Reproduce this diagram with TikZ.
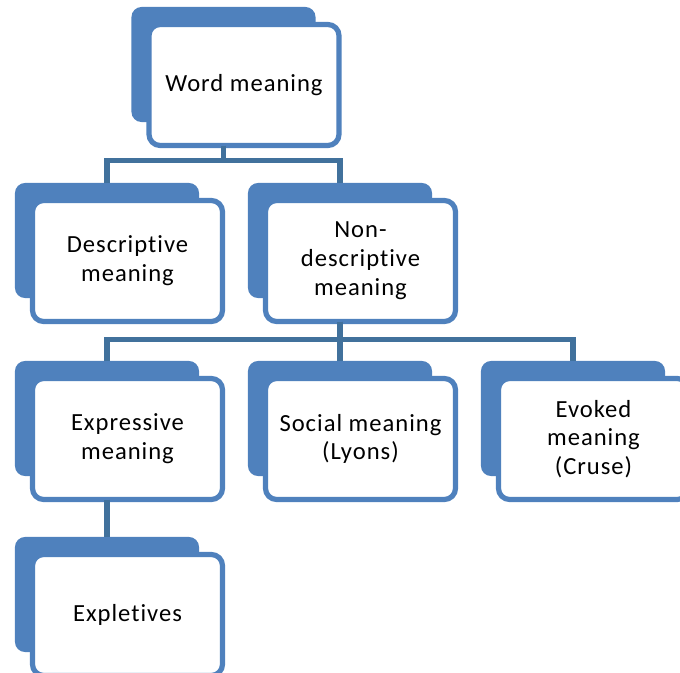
\documentclass[tikz,border=0pt]{standalone}
\usepackage{fontspec}
\setmainfont[LetterSpace=4,Ligatures=NoCommon]{Carlito}
\usepackage{tikz}
\usetikzlibrary{calc}
\definecolor{boxblue}{HTML}{4F81BD}
\definecolor{lineblue}{HTML}{41719C}

\begin{document}
\begin{tikzpicture}[
  x=0.025cm, y=-0.025cm,
  font=\fontsize{17.5}{20.5}\selectfont,
  backbox/.style={fill=boxblue, rounded corners=0.25cm, minimum width=4.6cm, minimum height=2.875cm, inner sep=0pt, outer sep=0pt},
  frontbox/.style={draw=boxblue, line width=0.13cm, fill=white, rounded corners=0.28cm, align=center, minimum width=4.75cm, minimum height=3.025cm, inner sep=0pt, outer sep=0pt},
  link/.style={draw=lineblue, line width=0.13cm}
]
\useasboundingbox (0,0) rectangle (680,673);
% back shapes
\node[backbox] (wordbk) at (223.5,64.5) {};
\node[backbox] (descbk) at (107,240.5) {};
\node[backbox] (nondbk) at (340,240.5) {};
\node[backbox] (expbk) at (107,418.5) {};
\node[backbox] (socbk) at (340,418.5) {};
\node[backbox] (evobk) at (573,418.5) {};
\node[backbox] (explbk) at (107,594.5) {};
% front boxes
\node[frontbox] (word) at ($(wordbk)+(20.5,20.5)$) {Word meaning};
\node[frontbox] (desc) at ($(descbk)+(20.5,20.5)$) {Descriptive\\meaning};
\node[frontbox] (nond) at ($(nondbk)+(20.5,20.5)$) {Non-\\descriptive\\meaning};
\node[frontbox] (exp) at ($(expbk)+(20.5,20.5)$) {Expressive\\meaning};
\node[frontbox] (soc) at ($(socbk)+(20.5,20.5)$) {Social meaning\\(Lyons)};
\node[frontbox] (evo) at ($(evobk)+(20.5,20.5)$) {Evoked\\meaning\\(Cruse)};
\node[frontbox] (expl) at ($(explbk)+(20.5,20.5)$) {Expletives};
% connectors
\foreach \c in {descbk,nondbk}{\draw[link] (wordbk |- word.south) -- ++(0,15) -| (\c.north);}
\foreach \c in {expbk,socbk,evobk}{\draw[link] (nondbk |- nond.south) -- ++(0,18) -| (\c.north);}
\draw[link] (expbk |- exp.south) -- (explbk.north);
\end{tikzpicture}
\end{document}
